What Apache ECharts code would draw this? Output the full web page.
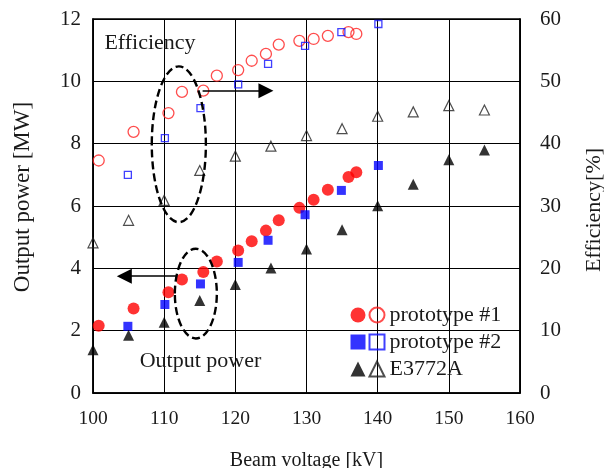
<!DOCTYPE html>
<html>
<head>
<meta charset="utf-8">
<script src="https://cdn.jsdelivr.net/npm/echarts@6/dist/echarts.min.js"></script>
<style>
  html, body { margin: 0; padding: 0; background: #fff; }
  #chart { width: 604px; height: 468px; }
</style>
</head>
<body>
<div id="chart"></div>
<script>
// beam voltage [kV] for each device
var voltsP1 = [100.8, 105.7, 110.6, 112.5, 115.5, 117.4, 120.4, 122.3, 124.3, 126.1, 129.0, 131.0, 133.0, 135.9, 137.0];
var voltsP2 = [104.9, 110.1, 115.1, 120.4, 124.6, 129.8, 134.9, 140.1];
var voltsE = [100, 105, 110, 115, 120, 125, 130, 135, 140, 145, 150, 155];

// output power [MW]
var powerP1 = [2.16, 2.71, 3.23, 3.64, 3.88, 4.22, 4.57, 4.87, 5.21, 5.54, 5.94, 6.2, 6.52, 6.93, 7.08];
var powerP2 = [2.14, 2.84, 3.5, 4.19, 4.9, 5.72, 6.5, 7.3];
var powerE = [1.39, 1.85, 2.27, 2.97, 3.48, 4.01, 4.62, 5.24, 6.01, 6.7, 7.48, 7.8];

// efficiency [%]
var effP1 = [37.3, 41.9, 44.9, 48.3, 48.5, 50.9, 51.8, 53.3, 54.4, 55.9, 56.5, 56.8, 57.3, 57.9, 57.6];
var effP2 = [35.0, 40.9, 45.7, 49.5, 52.8, 55.7, 57.9, 59.2];
var effE = [24.1, 27.7, 30.9, 35.7, 38.0, 39.6, 41.3, 42.4, 44.4, 45.1, 46.1, 45.4];

var xTicks = [100, 110, 120, 130, 140, 150, 160];
var names = ['prototype #1', 'prototype #2', 'E3772A'];

function pairs(xs, ys) {
    var out = [];
    for (var i = 0; i < xs.length; i++) out.push([xs[i], ys[i]]);
    return out;
}

var font = '"Liberation Serif", "Times New Roman", serif';
var ink = '#1a1a1a';

var chart = echarts.init(document.getElementById('chart'), null, {renderer: 'canvas'});

chart.setOption({
    animation: false,
    textStyle: {fontFamily: font, color: ink},
    grid: {
        left: 93, right: 84, top: 19, bottom: 75,
        containLabel: false, outerBoundsMode: 'none',
        show: true, borderColor: '#000', borderWidth: 1.5, backgroundColor: 'transparent'
    },
    legend: [
        {
            // filled icons, text hidden
            data: names,
            orient: 'vertical',
            left: 345.5, top: 299,
            itemWidth: 15, itemHeight: 15, itemGap: 5,
            selectedMode: false,
            textStyle: {color: 'rgba(0,0,0,0)', fontSize: 22, lineHeight: 22, fontFamily: font}
        },
        {
            data: names.map(function (n) { return n + ' '; }),
            orient: 'vertical',
            left: 363.5, top: 299,
            itemWidth: 15, itemHeight: 15, itemGap: 5,
            selectedMode: false,
            formatter: function (n) { return n.trim(); },
            textStyle: {color: ink, fontSize: 22, lineHeight: 22, fontFamily: font}
        }
    ],
    xAxis: {
        type: 'value', min: xTicks[0], max: xTicks[xTicks.length - 1], interval: 10,
        name: 'Beam voltage [kV]', nameLocation: 'middle', nameGap: 58,
        nameTextStyle: {fontSize: 20, color: ink, fontFamily: font},
        axisLine: {lineStyle: {color: '#000', width: 1.5}},
        axisTick: {inside: true, length: 5, lineStyle: {color: '#000'}},
        axisLabel: {fontSize: 19.5, color: ink, margin: 16, fontFamily: font},
        splitLine: {show: true, lineStyle: {color: '#000', width: 1}}
    },
    yAxis: [
        {
            type: 'value', min: 0, max: 12, interval: 2,
            name: 'Output power [MW]', nameLocation: 'middle', nameGap: 59, nameRotate: 90,
            nameTextStyle: {fontSize: 23, color: ink, fontFamily: font, padding: [0, 0, 0, 18]},
            axisLine: {show: true, lineStyle: {color: '#000', width: 1.5}},
            axisTick: {show: true, inside: true, length: 5, lineStyle: {color: '#000'}},
            axisLabel: {fontSize: 21, color: ink, margin: 12, fontFamily: font},
            splitLine: {show: true, lineStyle: {color: '#000', width: 1}}
        },
        {
            type: 'value', min: 0, max: 60, interval: 10, position: 'right',
            name: 'Efficiency[%]', nameLocation: 'middle', nameGap: 63, nameRotate: 90,
            nameTextStyle: {fontSize: 22, color: ink, fontFamily: font, padding: [0, 8, 0, 0]},
            axisLine: {show: true, lineStyle: {color: '#000', width: 1.5}},
            axisTick: {show: true, inside: true, length: 5, lineStyle: {color: '#000'}},
            axisLabel: {fontSize: 21, color: ink, margin: 20, fontFamily: font},
            splitLine: {show: false}
        }
    ],
    series: [
        // efficiency, open symbols (right axis)
        {
            name: names[0] + ' ', type: 'scatter', yAxisIndex: 1, symbol: 'circle', symbolSize: 11,
            itemStyle: {color: 'rgba(0,0,0,0)', borderColor: '#ff2020', borderWidth: 1.3},
            data: pairs(voltsP1, effP1)
        },
        {
            name: names[1] + ' ', type: 'scatter', yAxisIndex: 1, symbol: 'rect', symbolSize: 7,
            itemStyle: {color: 'rgba(0,0,0,0)', borderColor: '#1010ff', borderWidth: 1.3},
            data: pairs(voltsP2, effP2)
        },
        {
            name: names[2] + ' ', type: 'scatter', yAxisIndex: 1, symbol: 'triangle', symbolSize: 10,
            itemStyle: {color: 'rgba(0,0,0,0)', borderColor: '#222', borderWidth: 1.2},
            data: pairs(voltsE, effE)
        },
        // output power, filled symbols (left axis)
        {
            name: names[0], type: 'scatter', symbol: 'circle', symbolSize: 12,
            itemStyle: {color: '#ff0000'},
            data: pairs(voltsP1, powerP1),
            markLine: {
                silent: true, symbol: ['none', 'triangle'], symbolSize: [15, 15],
                label: {show: false},
                lineStyle: {color: '#000', width: 1.5, type: 'solid'},
                data: [
                    [{coord: [115.4, 9.7]}, {coord: [124.3, 9.7]}],
                    [{coord: [111.7, 3.75]}, {coord: [104.4, 3.75]}]
                ]
            }
        },
        {
            name: names[1], type: 'scatter', symbol: 'rect', symbolSize: 9,
            itemStyle: {color: '#0000ff'},
            data: pairs(voltsP2, powerP2)
        },
        {
            name: names[2], type: 'scatter', symbol: 'triangle', symbolSize: 11,
            itemStyle: {color: '#000'},
            data: pairs(voltsE, powerE)
        }
    ]
});

// annotations placed in data coordinates (kV, MW)
var ellipses = [
    {x: 112.06, y: 7.98, rx: 3.8, ry: 2.5},
    {x: 114.45, y: 3.19, rx: 2.95, ry: 1.44}
];
var notes = [
    {text: 'Efficiency', x: 101.6, y: 11.23, align: 'left'},
    {text: 'Output power', x: 115.1, y: 1.01, align: 'center'}
];

function px(x, y) {
    return chart.convertToPixel({xAxisIndex: 0, yAxisIndex: 0}, [x, y]);
}

var graphics = [];
ellipses.forEach(function (e) {
    var c = px(e.x, e.y);
    var edge = px(e.x + e.rx, e.y + e.ry);
    graphics.push({
        type: 'ellipse', silent: true, z: 10,
        shape: {cx: c[0], cy: c[1], rx: edge[0] - c[0], ry: c[1] - edge[1]},
        style: {fill: 'none', stroke: '#000', lineWidth: 2.4, lineDash: [8, 4]}
    });
});
notes.forEach(function (n) {
    var p = px(n.x, n.y);
    graphics.push({
        type: 'text', silent: true, z: 10, x: p[0], y: p[1],
        style: {text: n.text, font: '22px ' + font, fill: ink, align: n.align, verticalAlign: 'middle'}
    });
});
chart.setOption({graphic: graphics});
</script>
</body>
</html>
